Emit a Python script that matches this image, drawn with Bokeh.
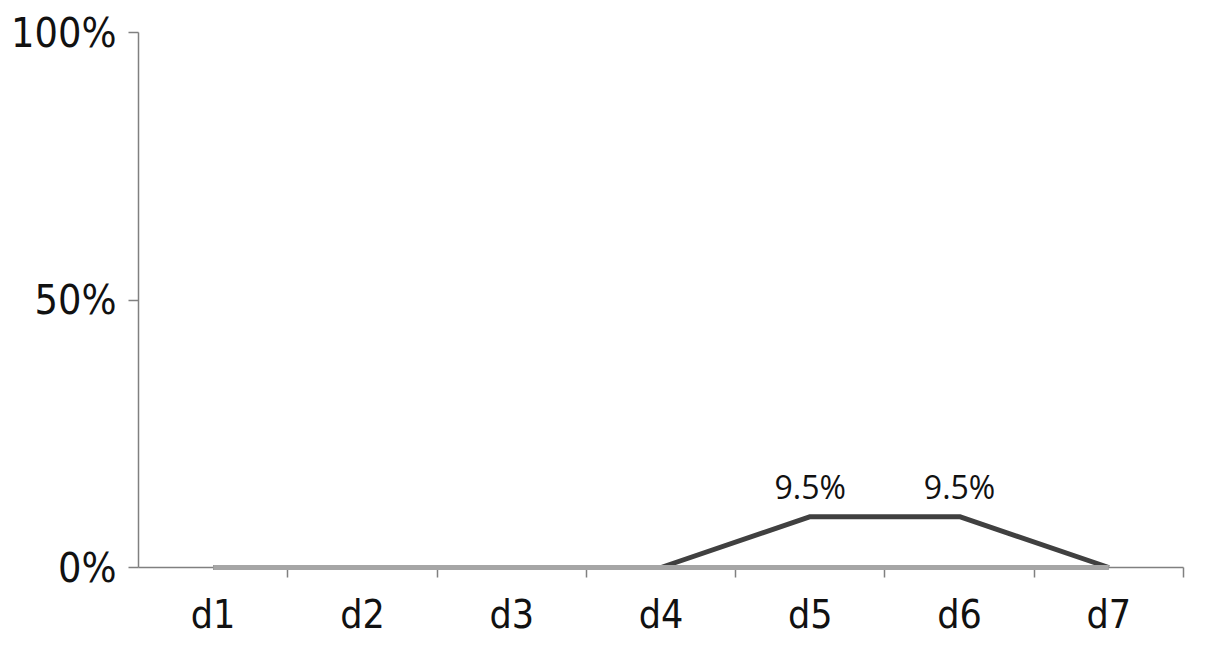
from bokeh.plotting import figure
from bokeh.models import FactorRange, LinearAxis, FixedTicker, NumeralTickFormatter, ColumnDataSource, Range1d
from bokeh.core.properties import value
from bokeh.embed import file_html
from bokeh.resources import INLINE

categories = ["d1", "d2", "d3", "d4", "d5", "d6", "d7"]
series_dark = [0.0, 0.0, 0.0, 0.0, 0.095, 0.095, 0.0]
series_light = [0.0, 0.0, 0.0, 0.0, 0.0, 0.0, 0.0]
label_cats = ["d5", "d6"]
label_vals = [0.095, 0.095]
label_texts = ["9.5%", "9.5%"]

AXIS_FONT = "DejaVu Sans Condensed"

p = figure(frame_width=1045, frame_height=535, x_range=FactorRange(factors=categories, range_padding=0),
           y_range=Range1d(0, 1), output_backend="svg", toolbar_location=None,
           x_axis_type=None, y_axis_type=None,
           min_border_left=138, min_border_right=10, min_border_top=32, min_border_bottom=70)
p.outline_line_color = None
p.grid.visible = False

n = len(categories)
centers = [i + 0.5 for i in range(n)]
xaxis = LinearAxis(ticker=FixedTicker(ticks=centers, minor_ticks=list(range(1, n + 1))),
                   major_label_overrides={c: lab for c, lab in zip(centers, categories)})
xaxis.axis_line_color = "#808080"
xaxis.axis_line_width = 1.5
xaxis.major_tick_line_color = None
xaxis.minor_tick_line_color = "#808080"
xaxis.minor_tick_line_width = 1.5
xaxis.minor_tick_out = 10
xaxis.minor_tick_in = 0
xaxis.major_label_text_font = AXIS_FONT
xaxis.major_label_text_font_size = "39px"
xaxis.major_label_text_color = "#111111"
xaxis.major_label_standoff = 14
p.add_layout(xaxis, "below")

yaxis = LinearAxis(ticker=FixedTicker(ticks=[0, 0.5, 1]), formatter=NumeralTickFormatter(format="0%"))
yaxis.axis_line_color = "#808080"
yaxis.axis_line_width = 1.5
yaxis.major_tick_line_color = "#808080"
yaxis.major_tick_line_width = 1.5
yaxis.major_tick_out = 10
yaxis.major_tick_in = 0
yaxis.minor_tick_line_color = None
yaxis.major_label_text_font = AXIS_FONT
yaxis.major_label_text_font_size = "41px"
yaxis.major_label_text_color = "#111111"
yaxis.major_label_standoff = 12
p.add_layout(yaxis, "left")

src = ColumnDataSource(dict(x=categories, dark=series_dark, light=series_light))
p.line("x", "dark", source=src, line_color="#404040", line_width=5, level="overlay")
p.line("x", "light", source=src, line_color="#a6a6a6", line_width=5, level="overlay")

lsrc = ColumnDataSource(dict(x=label_cats, y=label_vals, t=label_texts))
p.text("x", "y", text="t", source=lsrc, text_font=value("Open Sans"), text_font_size="32px",
       text_color="#111111", text_align="center", text_baseline="bottom", y_offset=-9)

open("out.html", "w").write(file_html(p, INLINE))
